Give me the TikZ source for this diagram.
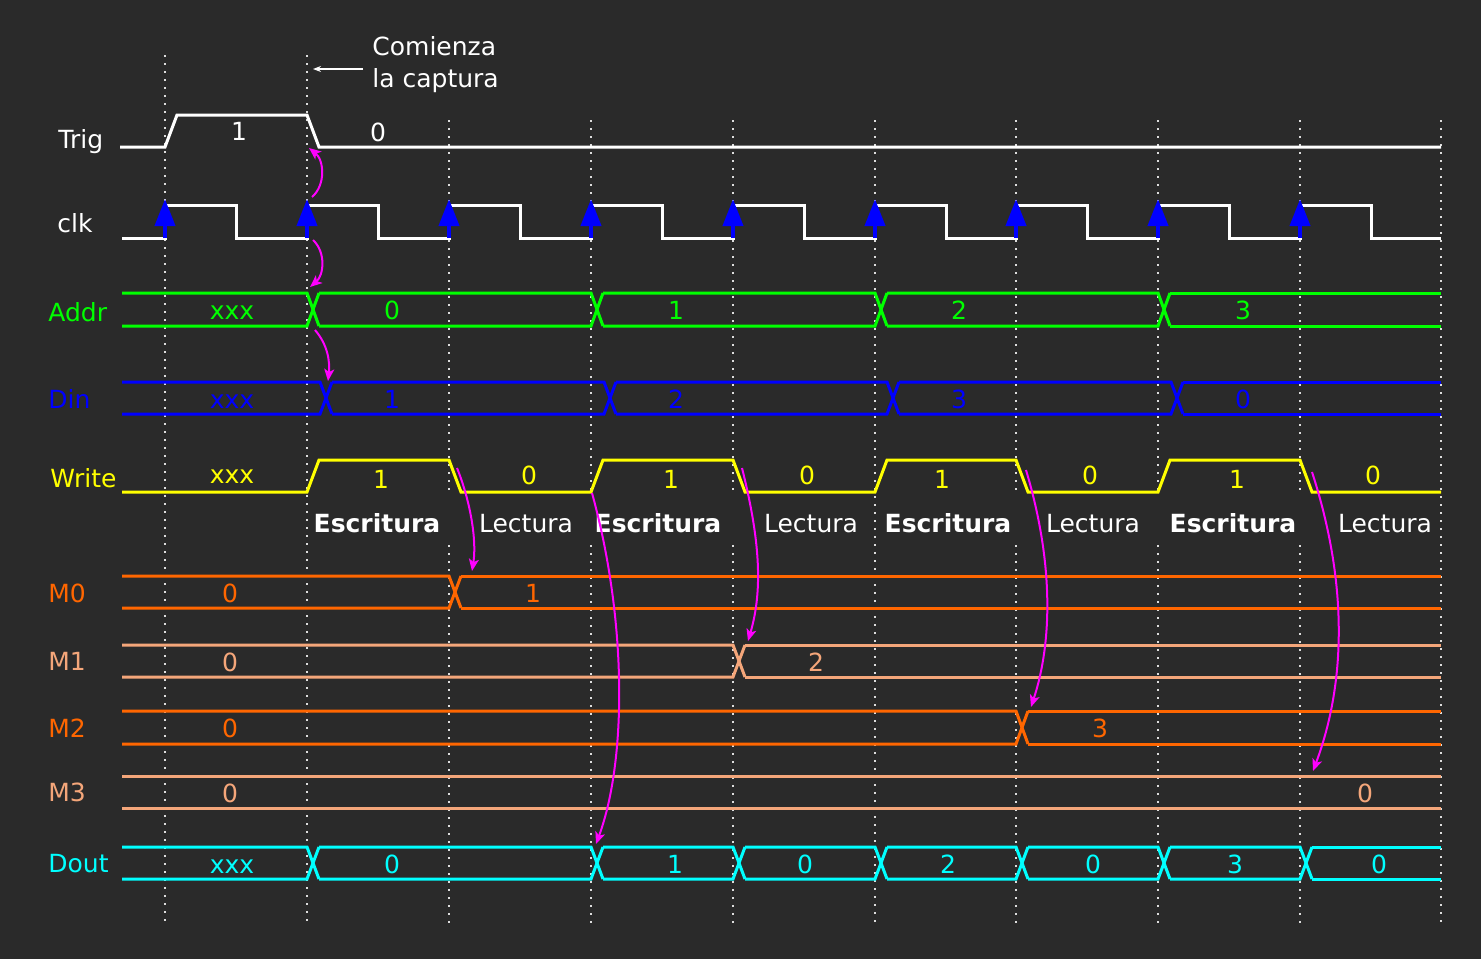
\documentclass[tikz,border=0pt]{standalone}
\usepackage{fontspec}
\setmainfont{DejaVu Sans}
\usetikzlibrary{arrows.meta}
\definecolor{bg}{HTML}{2A2A2A}
\definecolor{sgreen}{HTML}{00FF00}
\definecolor{sblue}{HTML}{0000FF}
\definecolor{syellow}{HTML}{FFFF00}
\definecolor{sorange}{HTML}{FF6600}
\definecolor{slight}{HTML}{F4A67A}
\definecolor{scyan}{HTML}{00FFFF}
\definecolor{smag}{HTML}{FF00FF}
\definecolor{dotc}{HTML}{DDDDDD}
\newcommand\drawbus[4]{%
  \foreach \t [remember=\t as \p (initially 110)] in {#4}{%
    \ifnum\t=1441
      \draw[sig,#3] (\p+12,#1) -- (1441,#1);
      \draw[sig,#3] (\p+12,#2) -- (1441,#2);
    \else
      \draw[sig,#3] (\p+12,#1) -- (\t,#1) -- (\t+12,#2);
      \draw[sig,#3] (\p+12,#2) -- (\t,#2) -- (\t+12,#1);
    \fi
  }}
\begin{document}
\begin{tikzpicture}[x=0.5pt,y=-0.5pt,
  sig/.style={line width=1.5pt},
  txt/.style={font=\fontsize{12.5}{15}\selectfont, inner sep=0pt, anchor=base},
  lbl/.style={txt, anchor=base west},
  dotline/.style={dotc, line width=1pt, dash pattern=on 1pt off 3pt},
  marrow/.style={smag, line width=1pt, -{Stealth[length=6pt,width=5pt,inset=1.5pt]}},
  clkarrow/.style={sblue, line width=2pt, -{Triangle[length=13.5pt,width=10pt]}}
]
\fill[bg] (0,0) rectangle (1481,959);
\path[use as bounding box] (0,0) rectangle (1481,959);

% dotted time lines
\foreach \x in {165,307} \draw[dotline] (\x,55) -- (\x,925);
\foreach \x in {875,1441} \draw[dotline] (\x,120) -- (\x,925);
\foreach \x in {449,591,733,1016,1158,1300} {
  \draw[dotline] (\x,120) -- (\x,491);
  \draw[dotline] (\x,545) -- (\x,925);
}

% labels
\node[lbl,white] (lTrig) at (58,148) {Trig};
\node[lbl,white] (lclk) at (57,232) {clk};
\node[lbl,sgreen] (lAddr) at (48,321) {Addr};
\node[lbl,sblue] (lDin) at (48,408) {Din};
\node[lbl,syellow] (lWrite) at (50,487) {Write};
\node[lbl,sorange] (lM0) at (48,602) {M0};
\node[lbl,slight] (lM1) at (48,670) {M1};
\node[lbl,sorange] (lM2) at (48,737) {M2};
\node[lbl,slight] (lM3) at (48,801) {M3};
\node[lbl,scyan] (lDout) at (48,872) {Dout};

% Trig
\draw[sig,white] (120,147) -- (165,147) -- (177,115) -- (307,115) -- (319,147) -- (1441,147);
\node[txt,white] (t1) at (239,140) {1};
\node[txt,white] (t0) at (378,141) {0};

% annotation
\node[lbl,white] (com1) at (372,55) {Comienza};
\node[lbl,white] (com2) at (372,87) {la captura};
\coordinate (annS) at (363,69);
\coordinate (annE) at (313,69);
\draw[white, line width=0.6pt, -{Stealth[length=4pt,width=3pt]}] (annS) -- (annE);

% clock
\draw[sig,white] (122,238)
  foreach \r in {165,307,449,591,733,875,1016,1158,1300} { -- (\r,238) -- (\r,205) -- (\r+71,205) -- (\r+71,238) }
  -- (1441,238);
\foreach \r in {165,307,449,591,733,875,1016,1158,1300}
  \draw[clkarrow] (\r,238) -- (\r,199);

% Addr
\drawbus{293}{326}{sgreen}{307,591,875,1158,1441}
\foreach \x/\v [count=\i] in {232/xxx,392/0,676/1,959/2,1243/3}
  \node[txt,sgreen] (a\i) at (\x,319) {\v};

% Din
\drawbus{382}{414}{sblue}{320,604,887,1171,1441}
\foreach \x/\v [count=\i] in {232/xxx,392/1,676/2,959/3,1243/0}
  \node[txt,sblue] (d\i) at (\x,408) {\v};

% Write
\draw[sig,syellow] (122,492) -- (307,492) -- (319,460) -- (449,460) -- (461,492)
  -- (591,492) -- (603,460) -- (733,460) -- (745,492)
  -- (875,492) -- (887,460) -- (1016,460) -- (1028,492)
  -- (1158,492) -- (1170,460) -- (1300,460) -- (1312,492) -- (1441,492);
\node[txt,syellow] (w0) at (232,483) {xxx};
\foreach \x/\v/\y [count=\i] in {381/1/488,529/0/484,671/1/488,807/0/484,942/1/488,1090/0/484,1237/1/488,1373/0/484}
  \node[txt,syellow] (w\i) at (\x,\y) {\v};

% phase labels
\foreach \x [count=\i] in {377,658,948,1233}
  \node[txt,white,font=\fontsize{12.5}{15}\selectfont\bfseries] (esc\i) at (\x,532) {Escritura};
\foreach \x [count=\i] in {526,811,1093,1385}
  \node[txt,white] (lec\i) at (\x,532) {Lectura};

% memories
\drawbus{576}{608}{sorange}{449,1441}
\node[txt,sorange] (m00) at (230,602) {0};
\node[txt,sorange] (m01) at (533,602) {1};
\drawbus{645}{677}{slight}{733,1441}
\node[txt,slight] (m10) at (230,671) {0};
\node[txt,slight] (m11) at (816,671) {2};
\drawbus{711}{744}{sorange}{1016,1441}
\node[txt,sorange] (m20) at (230,737) {0};
\node[txt,sorange] (m21) at (1100,737) {3};
\drawbus{776}{808}{slight}{1441}
\node[txt,slight] (m30) at (230,802) {0};
\node[txt,slight] (m31) at (1365,802) {0};

% Dout
\drawbus{847}{879}{scyan}{307,591,733,875,1016,1158,1300,1441}
\foreach \x/\v [count=\i] in {232/xxx,392/0,675/1,805/0,948/2,1093/0,1235/3,1379/0}
  \node[txt,scyan] (o\i) at (\x,873) {\v};

% causality arrows
\coordinate (c1s) at (312,197); \coordinate (c1e) at (309,148);
\coordinate (c2s) at (313,240); \coordinate (c2e) at (310,287);
\coordinate (c3s) at (315,330); \coordinate (c3e) at (328,381);
\coordinate (c4s) at (457,468); \coordinate (c4e) at (472,571);
\coordinate (c5s) at (592,493); \coordinate (c5e) at (596,844);
\coordinate (c6s) at (742,468); \coordinate (c6e) at (748,641);
\coordinate (c7s) at (1026,470); \coordinate (c7e) at (1031,707);
\coordinate (c8s) at (1312,472); \coordinate (c8e) at (1313,771);
\draw[marrow] (c1s) .. controls (326,185) and (324,160) .. (c1e);
\draw[marrow] (c2s) .. controls (326,252) and (324,275) .. (c2e);
\draw[marrow] (c3s) .. controls (328,345) and (330,362) .. (c3e);
\draw[marrow] (c4s) .. controls (470,500) and (477,540) .. (c4e);
\draw[marrow] (c5s) .. controls (627,620) and (627,760) .. (c5e);
\draw[marrow] (c6s) .. controls (760,540) and (763,590) .. (c6e);
\draw[marrow] (c7s) .. controls (1053,560) and (1053,640) .. (c7e);
\draw[marrow] (c8s) .. controls (1347,580) and (1347,680) .. (c8e);
\end{tikzpicture}
\end{document}
